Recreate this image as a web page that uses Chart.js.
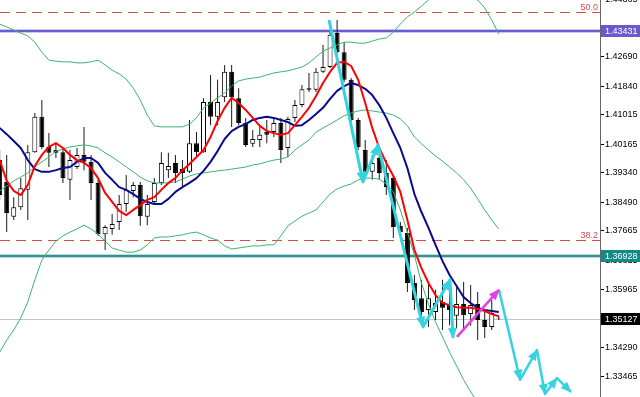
<!DOCTYPE html>
<html>
<head>
<meta charset="utf-8">
<script src="https://cdn.jsdelivr.net/npm/chart.js@4.4.1/dist/chart.umd.min.js"></script>
<style>
    html, body { margin: 0; padding: 0; background: #fff; }
    #wrap { width: 640px; height: 397px; }
</style>
</head>
<body>
<div id="wrap"><canvas id="chart"></canvas></div>
<script>
// bar index of the first (partly hidden) candle, following bars count up by one
const firstBar = -1;

const barOpen = [
    1.3971, 1.3908, 1.3807, 1.3835, 1.3885, 1.3994, 1.4096, 1.4009, 1.4000, 1.3994,
    1.3914, 1.3951, 1.3986, 1.3966, 1.3905, 1.3757, 1.3772, 1.3792, 1.3844, 1.3882,
    1.3899, 1.3807, 1.3850, 1.3905, 1.3942, 1.3963, 1.3945, 1.3937, 1.4020, 1.3994,
    1.4139, 1.4096, 1.4153, 1.4226, 1.4150, 1.4078, 1.4018, 1.4029, 1.4052, 1.4052,
    1.4078, 1.4006, 1.4093, 1.4130, 1.4179, 1.4174, 1.4226, 1.4240, 1.4338, 1.4283,
    1.4203, 1.4087, 1.4000, 1.3937, 1.3977, 1.3934, 1.3919, 1.3781, 1.3760, 1.3616,
    1.3572, 1.3538, 1.3532, 1.3561, 1.3552, 1.3521, 1.3555, 1.3526, 1.3555, 1.3509,
    1.3489, 1.3515
];
const barHigh = [
    1.4000, 1.3986, 1.3864, 1.3919, 1.4015, 1.4107, 1.4145, 1.4049, 1.4020, 1.4006,
    1.4000, 1.4006, 1.4067, 1.3986, 1.3914, 1.3783, 1.3815, 1.3870, 1.3928, 1.3908,
    1.3908, 1.3870, 1.3919, 1.3994, 1.3992, 1.3986, 1.3971, 1.4087, 1.4052, 1.4150,
    1.4217, 1.4203, 1.4246, 1.4246, 1.4179, 1.4093, 1.4058, 1.4067, 1.4087, 1.4093,
    1.4093, 1.4096, 1.4145, 1.4188, 1.4223, 1.4237, 1.4304, 1.4341, 1.4376, 1.4312,
    1.4208, 1.4093, 1.4029, 1.3986, 1.3994, 1.3971, 1.3928, 1.3792, 1.3775, 1.3639,
    1.3625, 1.3619, 1.3596, 1.3625, 1.3616, 1.3610, 1.3619, 1.3610, 1.3590, 1.3538,
    1.3567, 1.3521
];
const barLow = [
    1.3856, 1.3763, 1.3798, 1.3827, 1.3798, 1.3992, 1.4003, 1.3951, 1.3977, 1.3905,
    1.3856, 1.3945, 1.3942, 1.3856, 1.3752, 1.3711, 1.3755, 1.3769, 1.3821, 1.3864,
    1.3781, 1.3783, 1.3841, 1.3899, 1.3919, 1.3905, 1.3890, 1.3934, 1.3977, 1.3992,
    1.4072, 1.4072, 1.4139, 1.4067, 1.4072, 1.4009, 1.4009, 1.4009, 1.4020, 1.4038,
    1.3963, 1.3980, 1.4081, 1.4124, 1.4168, 1.4168, 1.4223, 1.4237, 1.4280, 1.4197,
    1.4081, 1.4000, 1.3928, 1.3914, 1.3914, 1.3870, 1.3746, 1.3749, 1.3590, 1.3538,
    1.3494, 1.3489, 1.3509, 1.3480, 1.3494, 1.3486, 1.3480, 1.3492, 1.3451, 1.3457,
    1.3480, 1.3509
];
const barClose = [
    1.3870, 1.3818, 1.3835, 1.3890, 1.3994, 1.4096, 1.4009, 1.3992, 1.3992, 1.3919,
    1.3971, 1.3986, 1.3966, 1.3905, 1.3757, 1.3778, 1.3786, 1.3844, 1.3885, 1.3899,
    1.3809, 1.3844, 1.3905, 1.3963, 1.3954, 1.3934, 1.3934, 1.4020, 1.3994, 1.4139,
    1.4096, 1.4139, 1.4226, 1.4153, 1.4078, 1.4015, 1.4032, 1.4044, 1.4044, 1.4078,
    1.4000, 1.4090, 1.4130, 1.4176, 1.4174, 1.4226, 1.4240, 1.4333, 1.4283, 1.4203,
    1.4087, 1.4009, 1.3937, 1.3963, 1.3934, 1.3893, 1.3778, 1.3763, 1.3616, 1.3567,
    1.3532, 1.3572, 1.3558, 1.3544, 1.3538, 1.3555, 1.3523, 1.3552, 1.3509, 1.3489,
    1.3529, 1.3513
];

// moving averages (red fast, navy slow)
const maFast = [
    1.3971, 1.3911, 1.3882, 1.3870, 1.3899, 1.3954, 1.3986, 1.4009, 1.4020, 1.4006,
    1.3986, 1.3971, 1.3963, 1.3948, 1.3919, 1.3876, 1.3850, 1.3824, 1.3812, 1.3827,
    1.3841, 1.3856, 1.3864, 1.3885, 1.3905, 1.3919, 1.3942, 1.3960, 1.3980, 1.4000,
    1.4038, 1.4084, 1.4122, 1.4151, 1.4136, 1.4116, 1.4093, 1.4070, 1.4055, 1.4049,
    1.4044, 1.4049, 1.4072, 1.4096, 1.4122, 1.4156, 1.4194, 1.4226, 1.4252, 1.4255,
    1.4243, 1.4203, 1.4136, 1.4064, 1.4006, 1.3963, 1.3925, 1.3879, 1.3798, 1.3711,
    1.3659, 1.3616, 1.3581, 1.3558, 1.3552, 1.3546, 1.3544, 1.3544, 1.3541, 1.3535,
    1.3526, 1.3520
];
const maSlow = [
    1.4064, 1.4046, 1.4026, 1.4006, 1.3971, 1.3945, 1.3937, 1.3937, 1.3942, 1.3948,
    1.3951, 1.3966, 1.3977, 1.3977, 1.3963, 1.3934, 1.3914, 1.3893, 1.3885, 1.3873,
    1.3859, 1.3850, 1.3844, 1.3844, 1.3859, 1.3879, 1.3893, 1.3905, 1.3919, 1.3940,
    1.3966, 1.3997, 1.4032, 1.4055, 1.4067, 1.4075, 1.4087, 1.4093, 1.4096, 1.4093,
    1.4087, 1.4081, 1.4070, 1.4072, 1.4087, 1.4104, 1.4122, 1.4148, 1.4171, 1.4185,
    1.4194, 1.4188, 1.4177, 1.4159, 1.4130, 1.4093, 1.4049, 1.4006, 1.3948, 1.3873,
    1.3821, 1.3775, 1.3726, 1.3679, 1.3639, 1.3607, 1.3575, 1.3558, 1.3544, 1.3538,
    1.3535, 1.3532
];

// bollinger bands
const bandUpper = [
    1.4364, 1.4356, 1.4347, 1.4338, 1.4330, 1.4312, 1.4283, 1.4260, 1.4257, 1.4255,
    1.4255, 1.4252, 1.4252, 1.4255, 1.4260, 1.4246, 1.4231, 1.4220, 1.4205, 1.4179,
    1.4145, 1.4101, 1.4070, 1.4067, 1.4067, 1.4067, 1.4067, 1.4075, 1.4093, 1.4122,
    1.4136, 1.4151, 1.4165, 1.4185, 1.4200, 1.4205, 1.4208, 1.4211, 1.4217, 1.4223,
    1.4226, 1.4229, 1.4234, 1.4240, 1.4252, 1.4269, 1.4286, 1.4295, 1.4304, 1.4312,
    1.4312, 1.4309, 1.4309, 1.4315, 1.4321, 1.4324, 1.4341, 1.4364, 1.4385, 1.4399,
    1.4416, 1.4434, 1.4448, 1.4457, 1.4460, 1.4457, 1.4451, 1.4442, 1.4434, 1.4411,
    1.4376, 1.4335
];
const bandMiddle = [
    1.3882, 1.3896, 1.3911, 1.3922, 1.3934, 1.3951, 1.3966, 1.3980, 1.3997, 1.4003,
    1.4009, 1.4012, 1.4015, 1.4012, 1.4006, 1.3992, 1.3980, 1.3966, 1.3951, 1.3937,
    1.3922, 1.3911, 1.3905, 1.3905, 1.3905, 1.3908, 1.3916, 1.3925, 1.3931, 1.3934,
    1.3937, 1.3940, 1.3942, 1.3945, 1.3948, 1.3951, 1.3957, 1.3960, 1.3966, 1.3971,
    1.3974, 1.3980, 1.4000, 1.4015, 1.4029, 1.4052, 1.4064, 1.4075, 1.4087, 1.4099,
    1.4107, 1.4113, 1.4116, 1.4113, 1.4110, 1.4107, 1.4101, 1.4090, 1.4070, 1.4038,
    1.4018, 1.4000, 1.3983, 1.3968, 1.3951, 1.3934, 1.3914, 1.3890, 1.3859, 1.3827,
    1.3798, 1.3772
];
const bandLower = [
    1.3416, 1.3451, 1.3480, 1.3515, 1.3561, 1.3625, 1.3682, 1.3711, 1.3737, 1.3752,
    1.3763, 1.3772, 1.3783, 1.3772, 1.3757, 1.3737, 1.3717, 1.3711, 1.3705, 1.3705,
    1.3711, 1.3726, 1.3746, 1.3749, 1.3749, 1.3752, 1.3755, 1.3760, 1.3763, 1.3755,
    1.3746, 1.3740, 1.3723, 1.3714, 1.3717, 1.3720, 1.3723, 1.3723, 1.3726, 1.3726,
    1.3752, 1.3781, 1.3795, 1.3809, 1.3818, 1.3827, 1.3850, 1.3873, 1.3888, 1.3896,
    1.3902, 1.3914, 1.3919, 1.3919, 1.3916, 1.3902, 1.3879, 1.3827, 1.3763, 1.3697,
    1.3616, 1.3555, 1.3503, 1.3460, 1.3416, 1.3376, 1.3336, 1.3301, 1.3272, 1.3249,
    1.3226, 1.3205
];

// drawn wave arrows: bar position and price of each vertex
const waveOneBars = [45.85, 50.68, 52.82, 59.22, 63.06, 63.49];
const waveOnePrices = [1.4376, 1.3908, 1.4015, 1.3489, 1.3625, 1.3457];
const pinkBars = [64.05, 70.03];
const pinkPrices = [1.3460, 1.3596];
const waveTwoBars = [70.03, 73.02, 75.43, 76.57, 78.28, 80.27];
const waveTwoPrices = [1.3596, 1.3336, 1.3422, 1.3295, 1.3341, 1.3301];

const yTickValues = [1.44365, 1.43515, 1.42690, 1.41840, 1.41015, 1.40165, 1.39340,
    1.38490, 1.37665, 1.36815, 1.35965, 1.35140, 1.34290, 1.33465];
const fibPrices = [1.43990, 1.37403];
const fibLabels = ['50.0', '38.2'];
const linePrices = [1.43431, 1.36928, 1.35127];

const toPoints = arr => arr.map((v, i) => ({ x: firstBar + i, y: v }));
const zipPoints = (xs, ys) => xs.map((x, i) => ({ x: x, y: ys[i] }));

const AXIS_FONT = "9px 'Liberation Sans', Arial, sans-serif";

const levelsPlugin = {
    id: 'levels',
    beforeDatasetsDraw(chart) {
        const { ctx, chartArea: a, scales: { y } } = chart;
        ctx.save();
        // fibo dashed lines
        ctx.strokeStyle = '#d94a4a';
        ctx.lineWidth = 1;
        ctx.setLineDash([10, 6]);
        fibPrices.forEach(p => {
            const py = Math.round(y.getPixelForValue(p)) + 0.5;
            ctx.beginPath(); ctx.moveTo(a.left, py); ctx.lineTo(a.right, py); ctx.stroke();
        });
        ctx.setLineDash([]);
        // bid line
        let py = Math.round(y.getPixelForValue(linePrices[2])) + 0.5;
        ctx.strokeStyle = '#c4c4c4';
        ctx.beginPath(); ctx.moveTo(a.left, py); ctx.lineTo(a.right, py); ctx.stroke();
        // horizontal support / resistance lines
        const halo = ['rgba(106,90,205,0.45)', 'rgba(0,128,128,0.35)'];
        const core = ['#4d40c9', '#0a7a7a'];
        [0, 1].forEach(i => {
            const yy = Math.round(y.getPixelForValue(linePrices[i]));
            ctx.strokeStyle = halo[i]; ctx.lineWidth = 3.5;
            ctx.beginPath(); ctx.moveTo(a.left, yy); ctx.lineTo(a.right, yy); ctx.stroke();
            ctx.strokeStyle = core[i]; ctx.lineWidth = 1.5;
            ctx.beginPath(); ctx.moveTo(a.left, yy); ctx.lineTo(a.right, yy); ctx.stroke();
        });
        ctx.restore();
    },
    afterDatasetsDraw(chart) {
        const { ctx, scales: { y } } = chart;
        ctx.save();
        // arrow heads on every drawn segment end
        chart.data.datasets.forEach((ds, i) => {
            if (!ds.arrowHeads) return;
            const pts = chart.getDatasetMeta(i).data;
            ctx.fillStyle = ds.borderColor;
            for (let j = 1; j < pts.length; j++) {
                const p0 = pts[j - 1], p1 = pts[j];
                const ang = Math.atan2(p1.y - p0.y, p1.x - p0.x);
                const len = 10, half = 4.5;
                ctx.save();
                ctx.translate(p1.x, p1.y);
                ctx.rotate(ang);
                ctx.beginPath();
                ctx.moveTo(1, 0);
                ctx.lineTo(-len, -half);
                ctx.lineTo(-len, half);
                ctx.closePath();
                ctx.fill();
                ctx.restore();
            }
        });
        // fibo labels
        ctx.font = AXIS_FONT;
        ctx.fillStyle = '#d94a4a';
        ctx.textAlign = 'right';
        ctx.textBaseline = 'bottom';
        fibPrices.forEach((p, i) => {
            ctx.fillText(fibLabels[i], 598, Math.round(y.getPixelForValue(p)));
        });
        ctx.restore();
    },
    afterDraw(chart) {
        const { ctx, chartArea: a, scales: { y } } = chart;
        const fills = ['#6a5acd', '#138a8a', '#000000'];
        ctx.save();
        ctx.font = AXIS_FONT;
        ctx.textAlign = 'left';
        ctx.textBaseline = 'middle';
        linePrices.forEach((p, i) => {
            const py = Math.round(y.getPixelForValue(p));
            ctx.fillStyle = fills[i];
            ctx.fillRect(a.right + 1, py - 6, 39, 12);
            ctx.fillStyle = '#fff';
            ctx.fillText(p.toFixed(5), a.right + 5, py + 0.5);
        });
        ctx.restore();
    }
};

const lineStyle = (data, color, width, order) => ({
    type: 'line',
    data: data,
    borderColor: color,
    borderWidth: width,
    pointRadius: 0,
    tension: 0,
    borderJoinStyle: 'round',
    order: order
});

new Chart(document.getElementById('chart').getContext('2d'), {
    type: 'bar',
    data: {
        datasets: [
            Object.assign(lineStyle(zipPoints(waveOneBars, waveOnePrices), '#34d3df', 3, 0), { arrowHeads: true }),
            Object.assign(lineStyle(zipPoints(pinkBars, pinkPrices), '#e23fe6', 2.5, 0), { arrowHeads: true }),
            Object.assign(lineStyle(zipPoints(waveTwoBars, waveTwoPrices), '#34d3df', 2.5, 0), { arrowHeads: true }),
            lineStyle(toPoints(maFast), '#ff0000', 2, 1),
            lineStyle(toPoints(maSlow), '#0a0a8c', 2, 2),
            lineStyle(toPoints(bandUpper), '#3cb371', 1, 3),
            lineStyle(toPoints(bandMiddle), '#3cb371', 1, 3),
            lineStyle(toPoints(bandLower), '#3cb371', 1, 3),
            {
                type: 'bar',
                data: barOpen.map((o, i) => ({ x: firstBar + i, y: [o, barClose[i]] })),
                backgroundColor: barOpen.map((o, i) => barClose[i] >= o ? '#ffffff' : '#000000'),
                borderColor: '#000000',
                borderWidth: 1,
                borderSkipped: false,
                barThickness: 5,
                inflateAmount: 0,
                grouped: false,
                order: 5
            },
            {
                type: 'bar',
                data: barLow.map((l, i) => ({ x: firstBar + i, y: [l, barHigh[i]] })),
                backgroundColor: '#1a1a1a',
                borderWidth: 0,
                barThickness: 1,
                inflateAmount: 0,
                grouped: false,
                order: 6
            }
        ]
    },
    options: {
        responsive: true,
        maintainAspectRatio: false,
        animation: false,
        events: [],
        layout: { padding: 0 },
        plugins: {
            legend: { display: false },
            tooltip: { enabled: false }
        },
        scales: {
            x: {
                type: 'linear',
                display: false,
                offset: false,
                min: -0.953,
                max: 84.4
            },
            y: {
                position: 'right',
                min: 1.32864,
                max: 1.44337,
                border: { display: true, color: '#666666', width: 1 },
                grid: { drawOnChartArea: false, tickLength: 4, color: '#000000' },
                ticks: {
                    autoSkip: false,
                    padding: 1,
                    color: '#000000',
                    font: { family: "'Liberation Sans', Arial, sans-serif", size: 9 },
                    callback: v => v.toFixed(5)
                },
                afterBuildTicks: s => { s.ticks = yTickValues.map(v => ({ value: v })); },
                afterFit: s => { s.width = 40; s.paddingTop = 0; s.paddingBottom = 0; }
            }
        }
    },
    plugins: [levelsPlugin]
});
</script>
</body>
</html>
